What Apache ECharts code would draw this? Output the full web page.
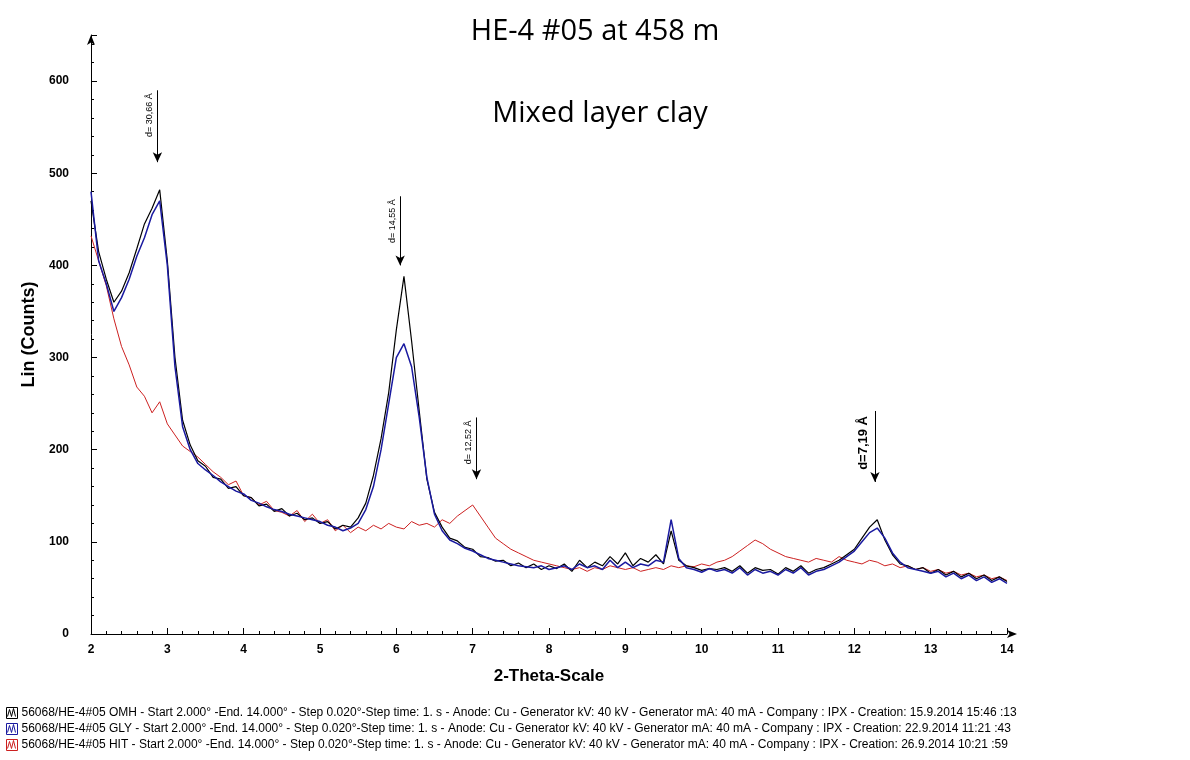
<!DOCTYPE html>
<html><head><meta charset="utf-8">
<script src="https://cdn.jsdelivr.net/npm/echarts@6/dist/echarts.min.js"></script>
<style>html,body{margin:0;background:#fff}#c{width:1190px;height:760px}</style>
</head><body><div id="c"></div>
<script>
const xStart = 2, xStep = 0.1;
const omh = [470,415,385,360,372,392,418,445,462,482,405,300,232,205,188,182,170,168,158,160,150,148,139,141,133,136,128,131,124,126,120,122,114,118,116,126,142,172,212,262,330,388,318,242,168,132,116,104,101,94,92,84,83,79,80,74,77,72,76,70,74,71,76,68,80,72,78,74,84,76,88,74,82,78,86,76,112,80,74,72,69,71,70,72,68,74,66,72,69,70,65,72,68,74,66,70,72,76,80,86,92,104,116,124,102,86,76,74,70,72,66,70,64,68,62,66,60,64,58,62,57];
const gly = [480,405,380,350,365,385,410,430,455,470,400,290,225,200,185,178,172,165,160,155,152,145,142,138,135,133,130,128,126,124,122,118,116,112,115,120,135,160,200,250,300,315,290,235,170,130,112,102,98,93,90,86,82,80,78,76,74,73,72,74,70,72,74,70,76,72,74,70,80,72,78,72,76,74,80,78,124,82,72,70,67,71,68,70,66,72,64,70,66,68,64,70,66,72,64,68,70,74,78,84,90,100,110,115,104,88,78,72,70,68,66,68,62,66,60,64,58,62,56,60,55];
const hit = [432,405,378,342,312,292,268,258,240,252,228,216,204,198,192,184,176,170,162,166,150,148,140,144,134,132,128,134,122,130,120,124,112,118,110,116,112,118,114,120,116,114,122,118,120,116,124,120,128,134,140,128,116,104,98,92,88,84,80,78,76,74,72,70,72,68,72,70,74,72,70,72,68,70,72,70,74,72,74,73,76,74,78,80,84,90,96,102,98,92,88,84,82,80,78,82,80,78,84,80,78,76,80,78,74,76,72,74,70,72,68,70,66,68,64,66,62,64,60,62,58];
const yTicks = [0,100,200,300,400,500,600];
const legendLines = [
 "56068/HE-4#05 OMH - Start 2.000° -End. 14.000° - Step 0.020°-Step time: 1. s - Anode: Cu - Generator kV: 40 kV - Generator mA: 40 mA - Company : IPX - Creation: 15.9.2014 15:46 :13",
 "56068/HE-4#05 GLY - Start 2.000° -End. 14.000° - Step 0.020°-Step time: 1. s - Anode: Cu - Generator kV: 40 kV - Generator mA: 40 mA - Company : IPX - Creation: 22.9.2014 11:21 :43",
 "56068/HE-4#05 HIT - Start 2.000° -End. 14.000° - Step 0.020°-Step time: 1. s - Anode: Cu - Generator kV: 40 kV - Generator mA: 40 mA - Company : IPX - Creation: 26.9.2014 10:21 :59"];
const legendColors = ['#000','#1a1aa0','#cc2020'];
const peaks = [
 {x:2.87, y1:590, y2:512, t:'d= 30,66 Å', big:false},
 {x:6.05, y1:475, y2:400, t:'d= 14,55 Å', big:false},
 {x:7.05, y1:235, y2:168, t:'d= 12,52 Å', big:false},
 {x:12.27, y1:242, y2:165, t:'d=7,19 Å', big:true}];

const toPts = a => a.map((v,i)=>[+(xStart+i*xStep).toFixed(2), v]);
const ch = echarts.init(document.getElementById('c'));
const font = 'Liberation Sans';
ch.setOption({
 animation:false,
 title:[{text:'HE-4 #05 at 458 m',left:590,top:12,textAlign:'center',textStyle:{fontSize:29,fontWeight:'normal',fontFamily:'Open Sans',color:'#000'}},
        {text:'Mixed layer clay',left:595,top:94,textAlign:'center',textStyle:{fontSize:29,fontWeight:'normal',fontFamily:'Open Sans',color:'#000'}}],
 grid:{left:91,right:183,top:35,bottom:126},
 xAxis:{type:'value',min:2,max:14,interval:1,
  axisLine:{lineStyle:{color:'#000'},symbol:['none','arrow'],symbolSize:[6,10],symbolOffset:[0,10]},
  axisTick:{inside:true,length:6,lineStyle:{color:'#000'}},minorTick:{show:true,splitNumber:5,length:3,lineStyle:{color:'#000'}},
  splitLine:{show:false},axisLabel:{color:'#000',fontFamily:font,fontWeight:'bold',fontSize:12,margin:10},
  name:'2-Theta-Scale',nameLocation:'middle',nameGap:34,nameTextStyle:{fontFamily:font,fontWeight:'bold',fontSize:17,color:'#000'}},
 yAxis:{type:'value',min:0,max:650,interval:100,
  axisLine:{show:true,lineStyle:{color:'#000'},symbol:['none','arrow'],symbolSize:[6,10]},
  axisTick:{show:true,inside:true,length:6,lineStyle:{color:'#000'}},minorTick:{show:true,splitNumber:5,length:3,lineStyle:{color:'#000'}},
  splitLine:{show:false},
  axisLabel:{color:'#000',fontFamily:font,fontWeight:'bold',fontSize:12,margin:22,formatter:v=>yTicks.includes(v)?v:''},
  name:'Lin (Counts)',nameLocation:'middle',nameGap:52,nameTextStyle:{fontFamily:font,fontWeight:'bold',fontSize:18,color:'#000'}},
 series:[
  {type:'line',data:toPts(hit),showSymbol:false,lineStyle:{color:'#cc2020',width:1}},
  {type:'line',data:toPts(omh),showSymbol:false,lineStyle:{color:'#000',width:1.2}},
  {type:'line',data:toPts(gly),showSymbol:false,lineStyle:{color:'#1a1aa0',width:1.5},
   markLine:{silent:true,symbol:['arrow','none'],symbolSize:[7,10],animation:false,
    data:peaks.map(p=>[{coord:[p.x,p.y2],lineStyle:{color:'#000',width:1,type:'solid'},
      label:{show:true,formatter:p.t,position:'insideEndTop',distance:p.big?5:3,color:'#000',
        fontFamily:font,fontSize:p.big?13:9,fontWeight:p.big?'bold':'normal'}},{coord:[p.x,p.y1]}])}}
 ],
 graphic: legendLines.map((t,i)=>({type:'group',left:5,top:706+i*16,children:[
   {type:'rect',shape:{x:0,y:1,width:11,height:11},style:{fill:'#fff',stroke:legendColors[i],lineWidth:1}},
   {type:'polyline',shape:{points:[[1,10],[3,3],[5,10],[7,2],[9,10]]},style:{stroke:legendColors[i],lineWidth:1,fill:null}},
   {type:'text',x:15,y:0,style:{text:t,font:'12px "Liberation Sans"',fill:'#000'}}]}))
});
</script></body></html>
